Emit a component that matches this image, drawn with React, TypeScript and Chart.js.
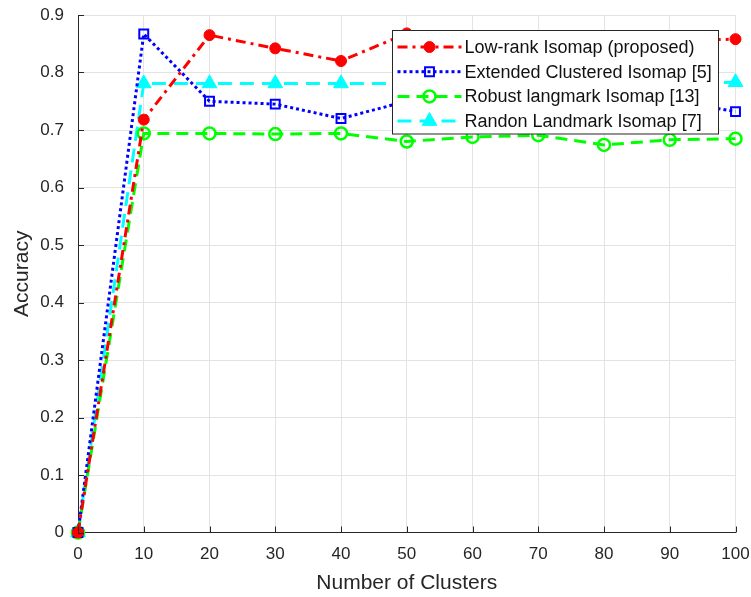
import React, { useEffect, useRef } from 'react';
import { Chart, registerables } from 'chart.js';

Chart.register(...registerables);

// Number of clusters on the x axis
const clusters = [0, 10, 20, 30, 40, 50, 60, 70, 80, 90, 100];

// Accuracy of each method
const lowRankIsomap = [0, 0.718, 0.865, 0.842, 0.82, 0.868, 0.855, 0.858, 0.852, 0.855, 0.858];
const extendedClusteredIsomap = [0, 0.867, 0.75, 0.745, 0.72, 0.75, 0.755, 0.76, 0.748, 0.752, 0.732];
const robustLandmarkIsomap = [0, 0.694, 0.694, 0.693, 0.694, 0.68, 0.688, 0.691, 0.674, 0.683, 0.685];
const randomLandmarkIsomap = [0, 0.781, 0.781, 0.781, 0.781, 0.781, 0.781, 0.781, 0.781, 0.781, 0.783];

const seriesNames = [
  'Low-rank Isomap (proposed)',
  'Extended Clustered Isomap [5]',
  'Robust langmark Isomap [13]',
  'Randon Landmark Isomap [7]',
];

const xTitle = 'Number of Clusters';
const yTitle = 'Accuracy';

const FONT = "'Liberation Sans', Arial, Helvetica, sans-serif";
const TEXT = '#262626';

type Style = {
  color: string;
  dash: number[];
  marker: 'circle' | 'rect' | 'triangle';
  radius: number;
  filled: boolean;
  markerWidth: number;
};

const styles: Style[] = [
  { color: '#ff0000', dash: [10, 5, 3, 5], marker: 'circle', radius: 5.5, filled: true, markerWidth: 1 },
  { color: '#0000ff', dash: [3, 3], marker: 'rect', radius: 6.3, filled: false, markerWidth: 2 },
  { color: '#00ff00', dash: [12, 7], marker: 'circle', radius: 6, filled: false, markerWidth: 2.5 },
  { color: '#00ffff', dash: [14, 8], marker: 'triangle', radius: 8.5, filled: true, markerWidth: 1 },
];

function drawMarker(ctx: CanvasRenderingContext2D, s: Style, x: number, y: number) {
  const r = s.radius;
  ctx.save();
  ctx.setLineDash([]);
  ctx.lineWidth = s.markerWidth;
  ctx.strokeStyle = s.color;
  ctx.fillStyle = s.color;
  ctx.beginPath();
  if (s.marker === 'circle') {
    ctx.arc(x, y, r, 0, Math.PI * 2);
  } else if (s.marker === 'rect') {
    const h = r * Math.SQRT1_2;
    ctx.rect(x - h, y - h, 2 * h, 2 * h);
  } else {
    let a = 0;
    ctx.moveTo(x + Math.sin(a) * r, y - Math.cos(a) * r);
    a += (2 * Math.PI) / 3;
    ctx.lineTo(x + Math.sin(a) * r, y - Math.cos(a) * r);
    a += (2 * Math.PI) / 3;
    ctx.lineTo(x + Math.sin(a) * r, y - Math.cos(a) * r);
    ctx.closePath();
  }
  if (s.filled) ctx.fill();
  ctx.stroke();
  ctx.restore();
}

// Inward tick marks on the left and bottom axes
const innerTicks = {
  id: 'innerTicks',
  afterDatasetsDraw(chart: any) {
    const { ctx, chartArea, scales } = chart;
    const x = scales.x;
    const y = scales.y;
    ctx.save();
    ctx.strokeStyle = TEXT;
    ctx.lineWidth = 1;
    ctx.setLineDash([]);
    x.ticks.forEach((t: any) => {
      const px = Math.round(x.getPixelForValue(t.value)) + 0.5;
      ctx.beginPath();
      ctx.moveTo(px, chartArea.bottom);
      ctx.lineTo(px, chartArea.bottom - 6);
      ctx.stroke();
    });
    y.ticks.forEach((t: any) => {
      const py = Math.round(y.getPixelForValue(t.value)) + 0.5;
      ctx.beginPath();
      ctx.moveTo(chartArea.left, py);
      ctx.lineTo(chartArea.left + 6, py);
      ctx.stroke();
    });
    ctx.restore();
  },
};

// Boxed legend in the upper right of the plot
const boxLegend = {
  id: 'boxLegend',
  afterDraw(chart: any) {
    const { ctx } = chart;
    const left = 392.5;
    const top = 30.5;
    const width = 326;
    const height = 103.5;
    const rowStart = 47;
    const rowGap = 24.7;
    ctx.save();
    ctx.fillStyle = '#ffffff';
    ctx.fillRect(left, top, width, height);
    ctx.strokeStyle = '#262626';
    ctx.lineWidth = 1;
    ctx.setLineDash([]);
    ctx.strokeRect(left, top, width, height);
    seriesNames.forEach((name, i) => {
      const s = styles[i];
      const cy = rowStart + i * rowGap;
      ctx.save();
      ctx.strokeStyle = s.color;
      ctx.lineWidth = 3;
      ctx.setLineDash(s.dash);
      ctx.beginPath();
      ctx.moveTo(left + 5, cy);
      ctx.lineTo(left + 69, cy);
      ctx.stroke();
      ctx.restore();
      drawMarker(ctx, s, left + 37, cy);
      ctx.fillStyle = '#111111';
      ctx.font = `18px ${FONT}`;
      ctx.textAlign = 'left';
      ctx.textBaseline = 'middle';
      ctx.fillText(name, left + 72, cy + 1);
    });
    ctx.restore();
  },
};

export default function App() {
  const canvasRef = useRef<HTMLCanvasElement>(null);

  useEffect(() => {
    const canvas = canvasRef.current;
    if (!canvas) return;
    const series = [lowRankIsomap, extendedClusteredIsomap, robustLandmarkIsomap, randomLandmarkIsomap];
    const chart = new Chart(canvas, {
      type: 'line',
      data: {
        datasets: series.map((values, i) => {
          const s = styles[i];
          return {
            label: seriesNames[i],
            data: clusters.map((c, k) => ({ x: c, y: values[k] })),
            borderColor: s.color,
            backgroundColor: s.color,
            borderWidth: 3,
            borderDash: s.dash,
            fill: false,
            tension: 0,
            clip: false,
            pointStyle: s.marker,
            pointRadius: s.radius,
            pointBorderWidth: s.markerWidth,
            pointBorderColor: s.color,
            pointBackgroundColor: s.filled ? s.color : 'rgba(0,0,0,0)',
          };
        }) as any,
      },
      options: {
        responsive: false,
        animation: false,
        events: [],
        layout: { padding: { top: 15, right: 15.5, bottom: 0, left: 0 } },
        plugins: {
          legend: { display: false },
          tooltip: { enabled: false },
        },
        scales: {
          x: {
            type: 'linear',
            min: 0,
            max: 100,
            ticks: {
              stepSize: 10,
              color: TEXT,
              font: { family: FONT, size: 17 },
              padding: 12,
              maxRotation: 0,
            },
            grid: { color: '#e3e3e3', lineWidth: 1, drawTicks: false },
            border: { color: TEXT, width: 1 },
            title: {
              display: true,
              text: xTitle,
              color: TEXT,
              font: { family: FONT, size: 21 },
              padding: { top: 0, bottom: 1 },
            },
            afterFit(scale: any) {
              scale.height = 64.5;
              scale.paddingLeft = 0;
              scale.paddingRight = 0;
            },
          },
          y: {
            type: 'linear',
            min: 0,
            max: 0.9,
            ticks: {
              stepSize: 0.1,
              color: TEXT,
              font: { family: FONT, size: 17 },
              padding: 14,
              callback: (v: any) => (Number(v) === 0 ? '0' : Number(v).toFixed(1)),
            },
            grid: { color: '#e3e3e3', lineWidth: 1, drawTicks: false },
            border: { color: TEXT, width: 1 },
            title: {
              display: true,
              text: yTitle,
              color: TEXT,
              font: { family: FONT, size: 21 },
              padding: { top: 10, bottom: 0 },
            },
            afterFit(scale: any) {
              scale.width = 78;
              scale.paddingTop = 0;
              scale.paddingBottom = 0;
            },
          },
        },
      },
      plugins: [innerTicks, boxLegend],
    });
    return () => chart.destroy();
  }, []);

  return (
    <div style={{ position: 'absolute', left: 0, top: 0, width: 751, height: 597, background: '#ffffff' }}>
      <canvas ref={canvasRef} width={751} height={597} style={{ display: 'block', width: 751, height: 597 }} />
    </div>
  );
}
